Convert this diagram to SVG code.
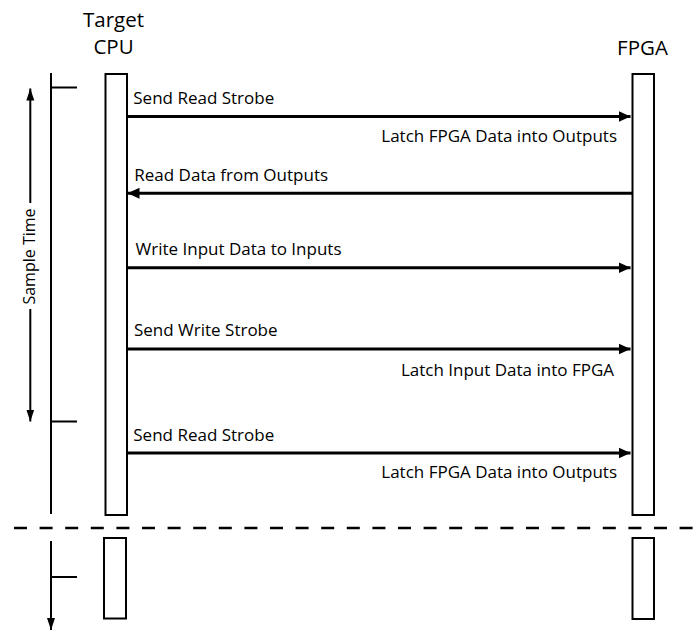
<svg xmlns="http://www.w3.org/2000/svg" width="695" height="630" viewBox="0 0 695 630">
<style>
text{font-family:"Open Sans","Liberation Sans",sans-serif;fill:#000}
.lbl{font-size:17px}
.end{text-anchor:end}
.title{font-size:20.5px;text-anchor:middle}
.box{fill:#fff;stroke:#000;stroke-width:2}
.msg{stroke:#000;stroke-width:3;fill:none}
.thin{stroke:#000;stroke-width:2;fill:none}
</style>
<defs>
<marker id="ah" markerUnits="userSpaceOnUse" markerWidth="13" markerHeight="12" refX="12" refY="6" orient="auto">
<path d="M0,0.5 L12,6 L0,11.5 Z" fill="#000"/>
</marker>
<marker id="ahs" markerUnits="userSpaceOnUse" markerWidth="13" markerHeight="9" refX="12" refY="4.5" orient="auto">
<path d="M0,0.5 L12,4.5 L0,8.5 Z" fill="#000"/>
</marker>
</defs>
<g id="cpu">
<text class="title" x="113.5" y="26.7">Target</text>
<text class="title" x="113.5" y="54.3">CPU</text>
<rect class="box" x="105.5" y="74" width="21.5" height="441"/>
<rect class="box" x="104" y="538" width="22" height="80.5"/>
</g>
<g id="fpga">
<text class="title" x="642.5" y="55">FPGA</text>
<rect class="box" x="632.5" y="74" width="21.5" height="441"/>
<rect class="box" x="632.5" y="538" width="21.5" height="81"/>
</g>
<g id="timeline">
<line class="thin" x1="51" y1="73" x2="51" y2="514"/>
<line class="thin" x1="51" y1="87.5" x2="77" y2="87.5"/>
<line class="thin" x1="51" y1="421.5" x2="77" y2="421.5"/>
<line class="thin" x1="51" y1="541" x2="51" y2="630" marker-end="url(#ahs)"/>
<line class="thin" x1="51" y1="577" x2="77" y2="577"/>
</g>
<g id="sample-time">
<line class="thin" x1="30.3" y1="203" x2="30.3" y2="88.5" marker-end="url(#ahs)"/>
<line class="thin" x1="30.3" y1="309" x2="30.3" y2="421.5" marker-end="url(#ahs)"/>
<text transform="translate(35,256.5) rotate(-90)" text-anchor="middle" style="font-size:16px">Sample Time</text>
</g>
<g id="separator">
<line x1="14" y1="528" x2="695" y2="528" stroke="#000" stroke-width="2.6" stroke-dasharray="13 12.6"/>
</g>
<g id="connectors">
<line class="msg" x1="127" y1="116.5" x2="630.5" y2="116.5" marker-end="url(#ah)"/>
<line class="msg" x1="632" y1="193.3" x2="127.5" y2="193.3" marker-end="url(#ah)"/>
<line class="msg" x1="127" y1="267.7" x2="630.5" y2="267.7" marker-end="url(#ah)"/>
<line class="msg" x1="127" y1="349" x2="630.5" y2="349" marker-end="url(#ah)"/>
<line class="msg" x1="127" y1="453" x2="630.5" y2="453" marker-end="url(#ah)"/>
</g>
<g id="labels">
<text class="lbl" x="133.3" y="104">Send Read Strobe</text>
<text class="lbl end" x="617" y="141.7">Latch FPGA Data into Outputs</text>
<text class="lbl" x="134.3" y="180.7">Read Data from Outputs</text>
<text class="lbl" x="135.5" y="255">Write Input Data to Inputs</text>
<text class="lbl" x="134" y="336">Send Write Strobe</text>
<text class="lbl end" x="614" y="376">Latch Input Data into FPGA</text>
<text class="lbl" x="133.3" y="441">Send Read Strobe</text>
<text class="lbl end" x="617" y="478">Latch FPGA Data into Outputs</text>
</g>
</svg>
